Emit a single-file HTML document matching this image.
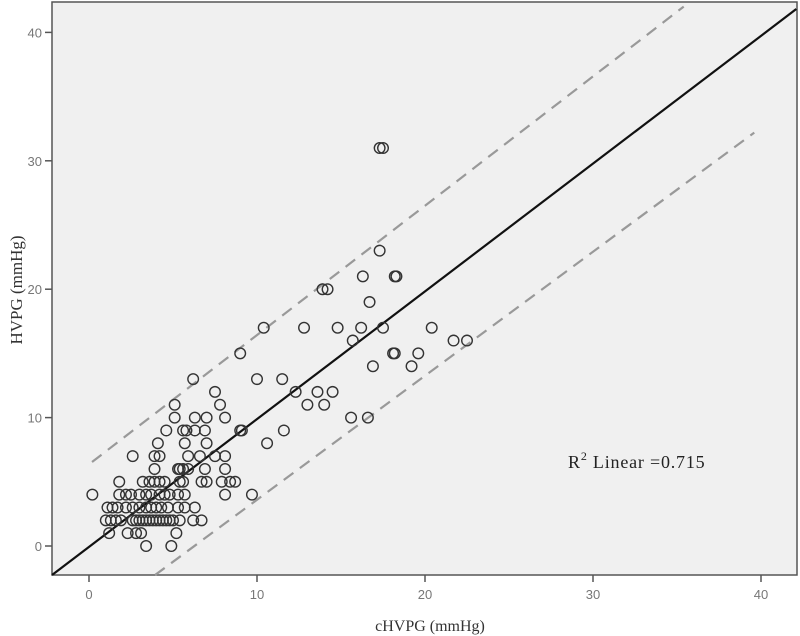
<!DOCTYPE html>
<html><head><meta charset="utf-8"><style>
body{margin:0;background:#fff;}
svg{display:block;}
</style></head><body>
<svg id="chart" width="800" height="636" xmlns="http://www.w3.org/2000/svg">
<rect x="52" y="2" width="745" height="573" fill="#f0f0f0" stroke="#555" stroke-width="1.5"/>
<g id="ticks"></g>
<g id="lines"></g>
<g id="points"></g>
<text transform="translate(22,290) rotate(-90)" text-anchor="middle" font-family="Liberation Serif, serif" font-size="17" fill="#333">HVPG (mmHg)</text>
<text x="430" y="631" text-anchor="middle" font-family="Liberation Serif, serif" font-size="16" fill="#333">cHVPG (mmHg)</text>
<text x="568" y="468" font-family="Liberation Serif, serif" font-size="18" letter-spacing="0.8" fill="#222">R<tspan dy="-8" font-size="12">2</tspan><tspan dy="8"> Linear =0.715</tspan></text>
</svg>
<script>
const xTicks=[0,10,20,30,40];
const yTicks=[0,10,20,30,40];
const px=[17.3,17.5,17.3,16.3,18.2,18.3,13.9,14.2,16.7,10.4,12.8,14.8,16.2,17.5,20.4,9.0,15.7,21.7,22.5,18.1,18.2,19.6,16.9,19.2,10.0,11.5,12.3,13.6,14.5,13.0,14.0,15.6,16.6,9.1,11.6,10.6,
6.2,7.5,5.1,7.8,5.1,6.3,7.0,8.1,4.6,5.6,5.8,6.3,6.9,9.0,4.1,5.7,7.0,2.6,3.9,4.2,5.9,6.6,7.5,8.1,3.9,5.3,5.4,5.6,5.9,6.9,8.1,
1.8,3.2,3.6,3.9,4.2,4.5,5.4,5.6,6.7,7.0,7.9,8.4,8.7,
0.2,1.8,2.2,2.5,3.0,3.4,3.7,4.2,4.5,4.8,5.3,5.7,8.1,9.7,
1.1,1.4,1.7,2.2,2.6,3.0,3.4,3.7,4.0,4.3,4.7,5.3,5.7,6.3,
1.0,1.3,1.6,1.9,2.6,2.8,3.0,3.2,3.4,3.6,3.8,4.0,4.2,4.4,4.6,4.8,5.0,5.4,6.2,6.7,
1.2,2.3,2.8,3.1,5.2,3.4,4.9];
const py=[31,31,23,21,21,21,20,20,19,17,17,17,17,17,17,15,16,16,16,15,15,15,14,14,13,13,12,12,12,11,11,10,10,9,9,8,
13,12,11,11,10,10,10,10,9,9,9,9,9,9,8,8,8,7,7,7,7,7,7,7,6,6,6,6,6,6,6,
5,5,5,5,5,5,5,5,5,5,5,5,5,
4,4,4,4,4,4,4,4,4,4,4,4,4,4,
3,3,3,3,3,3,3,3,3,3,3,3,3,3,
2,2,2,2,2,2,2,2,2,2,2,2,2,2,2,2,2,2,2,2,
1,1,1,1,1,0,0];
const fitLine=[-2.2,42.1,0.995,-0.07];
const upperLine=[0.18,35.4,1.007,6.36];
const lowerLine=[3.93,39.6,0.966,-6.06];
const X=v=>89+v*16.8, Y=v=>546-v*12.84;
const NS='http://www.w3.org/2000/svg';
function mk(t,a,p){const e=document.createElementNS(NS,t);for(const k in a)e.setAttribute(k,a[k]);p.appendChild(e);return e;}
const tg=document.getElementById('ticks');
xTicks.forEach(v=>{
 const l=mk('line',{x1:X(v),x2:X(v),y1:575,y2:582,stroke:'#555','stroke-width':1.5},tg);
 
 
 const t=mk('text',{x:X(v),y:599,'text-anchor':'middle','font-family':'Liberation Sans, sans-serif','font-size':13,fill:'#777'},tg);
 
 
 t.textContent=v;
});
yTicks.forEach(v=>{
 const l=mk('line',{x1:45,x2:52,y1:Y(v),y2:Y(v),stroke:'#555','stroke-width':1.5},tg);
 
 
 const t=mk('text',{x:42,y:Y(v)+5,'text-anchor':'end','font-family':'Liberation Sans, sans-serif','font-size':13,fill:'#777'},tg);
 
 
 t.textContent=v;
});
const lg=document.getElementById('lines');
function seg(d,dash,col,w,name){
 const l=mk('line',{x1:X(d[0]),y1:Y(d[2]*d[0]+d[3]),x2:X(d[1]),y2:Y(d[2]*d[1]+d[3]),stroke:col,'stroke-width':w},lg);
 if(dash)l.setAttribute('stroke-dasharray',dash);
 
 
}
seg(upperLine,'12,8','#999',2.2,'upper-prediction-line');
seg(lowerLine,'12,8','#999',2.2,'lower-prediction-line');
seg(fitLine,null,'#111',2.2,'fit-line');
const pg=document.getElementById('points');
px.forEach((v,i)=>{
 const c=mk('circle',{cx:X(v),cy:Y(py[i]),r:5.3,fill:'none',stroke:'#333','stroke-width':1.4},pg);
 
 
});
</script>
</body></html>
